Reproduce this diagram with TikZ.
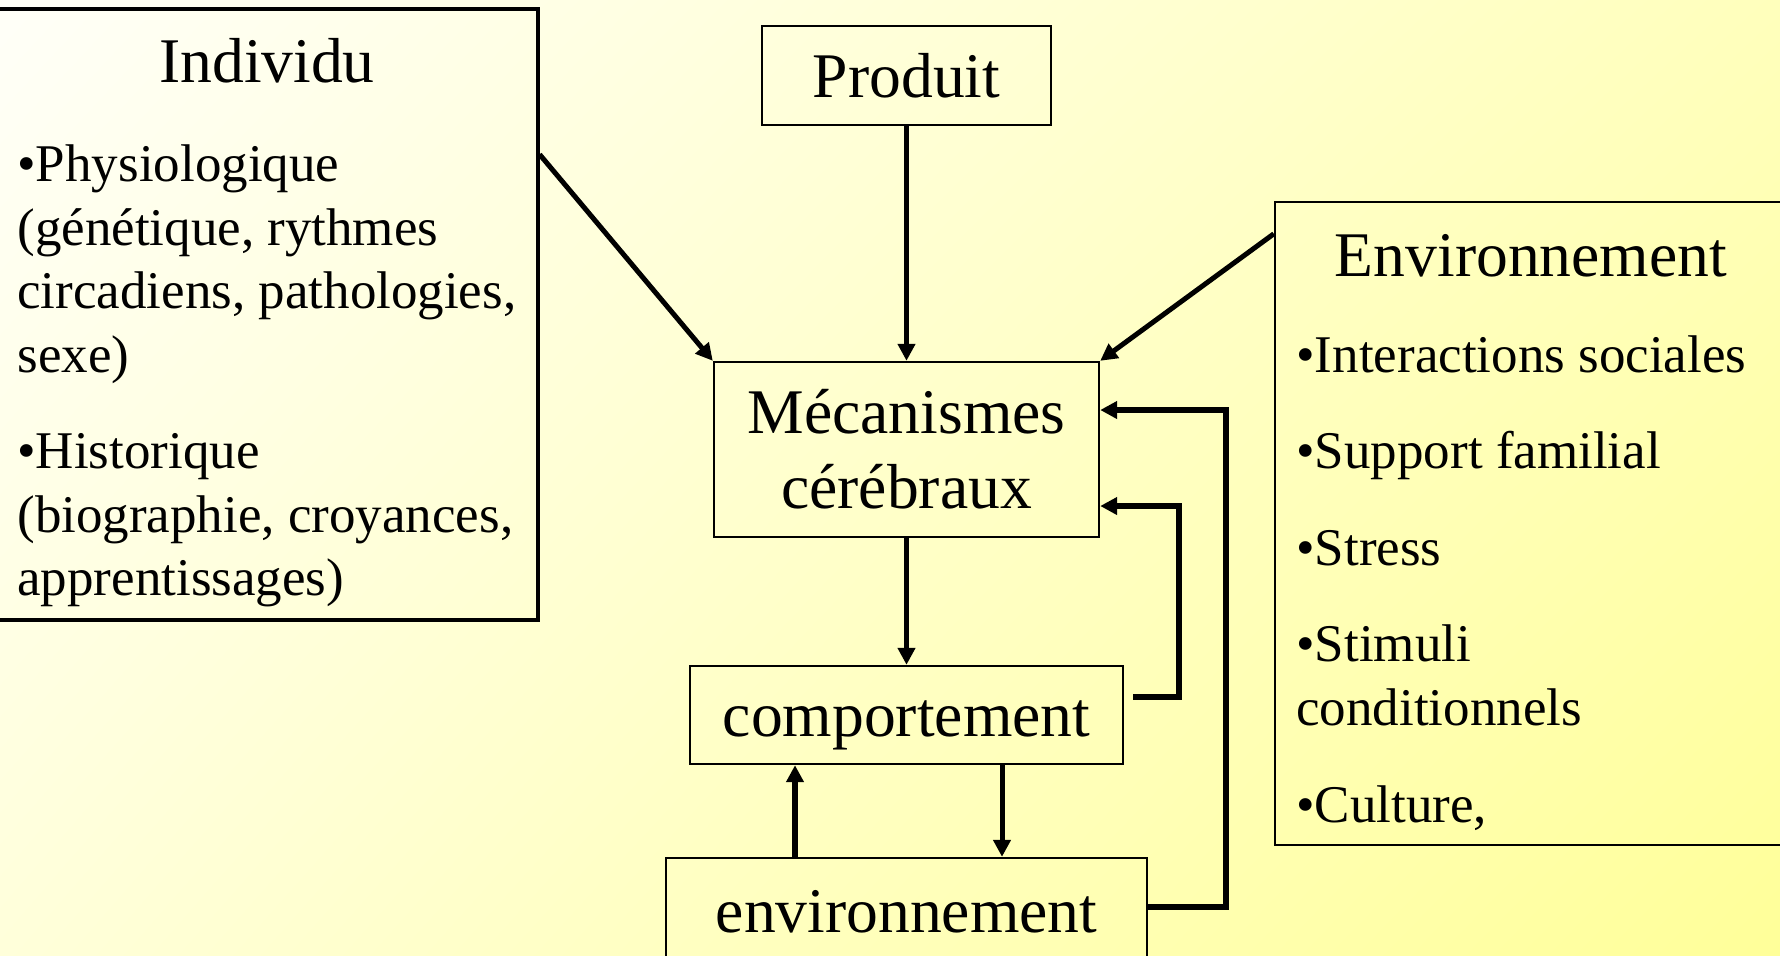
\documentclass[tikz,border=0pt]{standalone}
\usepackage{fontspec}
\setmainfont{Liberation Serif}
\usepackage{tikz}
\usetikzlibrary{arrows.meta}
\usetikzlibrary{shadings}
\tikzset{box/.style = {draw, line width=1.2pt, inner sep=0, align=center,
                       font=\fontsize{31.8}{37.5}\selectfont}}
\tikzset{boxtitle/.style = {anchor=base, inner sep=0, font=\fontsize{31.8}{37.5}\selectfont}}
\tikzset{itemtext/.style = {anchor=base west, inner sep=0, font=\fontsize{26.5}{31.8}\selectfont}}
\tikzset{arr/.style = {line width=2.5pt, -{Triangle[length=8.5pt, width=8.5pt]}}}
\tikzset{fb/.style = {arr, line width=3pt}}
\definecolor{bgtl}{RGB}{255,255,248}
\definecolor{bgtr}{RGB}{255,255,188}
\definecolor{bgbl}{RGB}{255,255,218}
\definecolor{bgbr}{RGB}{255,255,153}

\begin{document}
\begin{tikzpicture}[x=0.5pt, y=-0.5pt]
    \useasboundingbox (0, 0) rectangle (1780, 955);
    \shade [upper left=bgtl, upper right=bgtr, lower left=bgbl, lower right=bgbr] (0, 0) rectangle (1780, 955);
    \clip (0, 0) rectangle (1780, 955);

    % boxes
    \node [box, line width=1.6pt, minimum width=271pt, minimum height=305.5pt] (indiv) at (267, 314.5) {};
    \node [box, minimum width=144.5pt, minimum height=49.5pt] (prod) at (906.5, 75.5) {Produit};
    \node [box, minimum width=192.5pt, minimum height=87.5pt, text depth=1pt] (meca) at (906.5, 449.5) {Mécanismes\\cérébraux};
    \node [box, minimum width=216.5pt, minimum height=49pt, text height=21.5pt, text depth=0pt] (comp) at (906.5, 715) {comportement};
    \node [box, minimum width=240.5pt, minimum height=53.5pt] (env) at (906.5, 911.5) {environnement};
    \node [box, minimum width=257.5pt, minimum height=321.5pt] (envr) at (1532.5, 523.5) {};

    % left list
    \node [boxtitle] (tind) at (267, 82.5) {Individu};
    \node [itemtext] (i1) at (17, 181.4) {•Physiologique};
    \node [itemtext] (i2) at (17, 245) {(génétique, rythmes};
    \node [itemtext] (i3) at (17, 308.6) {circadiens, pathologies,};
    \node [itemtext] (i4) at (17, 372.2) {sexe)};
    \node [itemtext] (i5) at (17, 468.7) {•Historique};
    \node [itemtext] (i6) at (17, 532.3) {(biographie, croyances,};
    \node [itemtext] (i7) at (17, 595.9) {apprentissages)};

    % right list
    \node [boxtitle] (tenv) at (1531, 276) {Environnement};
    \node [itemtext] (e1) at (1296, 372.4) {•Interactions sociales};
    \node [itemtext] (e2) at (1296, 468.9) {•Support familial};
    \node [itemtext] (e3) at (1296, 565.4) {•Stress};
    \node [itemtext] (e4) at (1296, 661.9) {•Stimuli};
    \node [itemtext] (e5) at (1296, 725.5) {conditionnels};
    \node [itemtext] (e6) at (1296, 822) {•Culture,};

    % arrows
    \draw [arr] ([yshift=-73.5pt]indiv.north east) -- (meca.north west);
    \draw [arr] (prod.south) -- (meca.north);
    \draw [arr] ([yshift=-16.5pt]envr.north west) -- (meca.north east);
    \draw [arr] (meca.south) -- (comp.north);

    \coordinate (fbin) at (1179, 506);
    \coordinate (fbout) at (1226, 410);
    \draw [fb] ([xshift=4.5pt, yshift=9pt]comp.east) -| (fbin) -- (fbin -| meca.east);
    \draw [fb] ([yshift=2.25pt]env.east) -| (fbout) -- (fbout -| meca.east);

    \coordinate (dn) at (1002, 0);
    \coordinate (up) at (795, 0);
    \draw [arr] (comp.south -| dn) -- (env.north -| dn);
    \draw [fb] (env.north -| up) -- (comp.south -| up);
\end{tikzpicture}
\end{document}
